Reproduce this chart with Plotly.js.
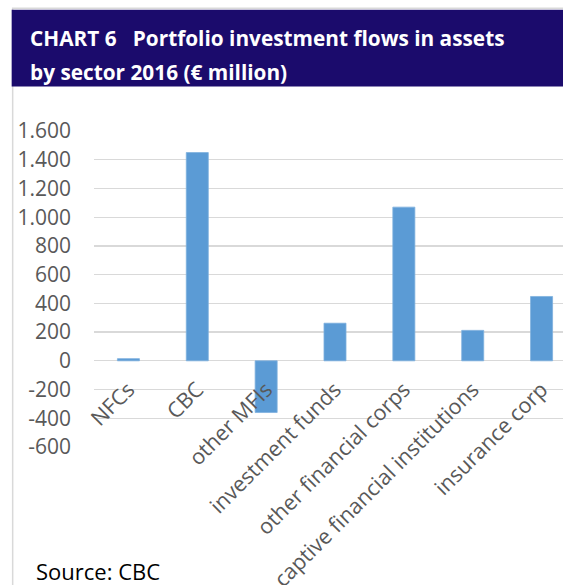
<!DOCTYPE html>
<html>
<head>
<meta charset="utf-8">
<script src="https://cdn.plot.ly/plotly-3.0.1.min.js"></script>
<style>
html,body{margin:0;padding:0;overflow:hidden;background:#fff;}
#chart{width:580px;height:585px;}
</style>
</head>
<body>
<div id="chart"></div>
<script>
// ---- data ----
const categories = ["NFCs", "CBC", "other MFIs", "investment funds", "other financial corps", "captive financial institutions", "insurance corp"];
const values = [15, 1450, -360, 262, 1070, 212, 448];
const yTickValues = [-600, -400, -200, 0, 200, 400, 600, 800, 1000, 1200, 1400, 1600];
const yTickLabels = ["-600", "-400", "-200", "0", "200", "400", "600", "800", "1.000", "1.200", "1.400", "1.600"];
const titleLine1 = "CHART 6\u00a0\u00a0\u00a0Portfolio investment flows in assets";
const titleLine2 = "by sector 2016 (\u20ac million)";
const sourceText = "Source: CBC";

// ---- geometry (pixels) ----
const W = 580, H = 585;
const L = 93.5, R = 3.5, T = 131, B = 137.5;
const pw = W - L - R, ph = H - T - B;
const px = x => (x - L) / pw;
const py = y => (H - B - y) / ph;

const FONT = "Open Sans, Liberation Sans, sans-serif";
const GRID = "#d9d9d9";

const trace = {
  type: "bar",
  x: categories,
  y: values,
  marker: {color: "#5b9bd5", line: {color: "#7fb1de", width: 0.8}},
  hoverinfo: "skip"
};

const layout = {
  width: W, height: H,
  margin: {l: L, r: R, t: T, b: B, pad: 0},
  paper_bgcolor: "#ffffff",
  plot_bgcolor: "#ffffff",
  showlegend: false,
  bargap: 0.68,
  font: {family: FONT, color: "#595959", size: 21},
  xaxis: {
    type: "category",
    range: [-0.5, categories.length - 0.5],
    anchor: "free",
    position: 600 / 2200,
    showline: false,
    showgrid: false,
    zeroline: false,
    ticks: "",
    tickangle: -45,
    tickfont: {family: FONT, size: 21.5, color: "#595959"},
    ticklabelstandoff: 11,
    fixedrange: true
  },
  yaxis: {
    range: [-600, 1600],
    tickmode: "array",
    tickvals: yTickValues,
    ticktext: yTickLabels,
    showgrid: true,
    gridcolor: GRID,
    gridwidth: 1.3,
    zeroline: true,
    zerolinecolor: GRID,
    zerolinewidth: 1.3,
    showline: false,
    ticks: "",
    ticklabelstandoff: 22,
    tickfont: {family: FONT, size: 21, color: "#595959"},
    fixedrange: true
  },
  shapes: [
    {type: "rect", xref: "paper", yref: "paper", x0: px(12), x1: px(700), y0: py(8), y1: py(700),
     line: {color: GRID, width: 1.5}, fillcolor: "rgba(0,0,0,0)", layer: "below"},
    {type: "rect", xref: "paper", yref: "paper", x0: px(11), x1: px(700), y0: py(9.5), y1: py(86.5),
     line: {width: 0}, fillcolor: "#1b0b6c", layer: "above"}
  ],
  annotations: [
    {text: "<b>" + titleLine1 + "</b>", xref: "paper", yref: "paper", x: px(27), y: py(38),
     xanchor: "left", yanchor: "middle", showarrow: false,
     font: {family: FONT, size: 20.8, color: "#ffffff"}},
    {text: "<b>" + titleLine2 + "</b>", xref: "paper", yref: "paper", x: px(27), y: py(72),
     xanchor: "left", yanchor: "middle", showarrow: false,
     font: {family: FONT, size: 20.8, color: "#ffffff"}},
    {text: sourceText, xref: "paper", yref: "paper", x: px(33), y: py(572),
     xanchor: "left", yanchor: "middle", showarrow: false,
     font: {family: FONT, size: 22, color: "#000000"}}
  ]
};

Plotly.newPlot("chart", [trace], layout, {staticPlot: true, displayModeBar: false});
</script>
</body>
</html>
